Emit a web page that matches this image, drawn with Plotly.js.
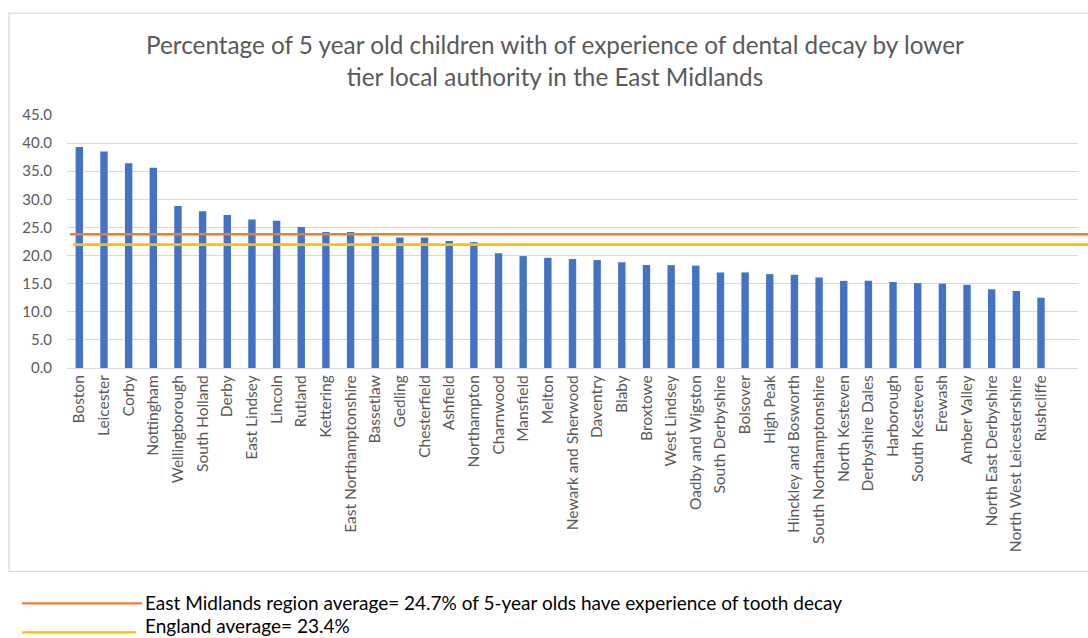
<!DOCTYPE html>
<html>
<head>
<meta charset="utf-8">
<script src="https://cdn.plot.ly/plotly-3.0.1.min.js"></script>
<style>html,body{margin:0;padding:0;background:#fff;}#chart{width:1088px;height:638px;}</style>
</head>
<body>
<div id="chart"></div>
<script>
const authorities = ["Boston","Leicester","Corby","Nottingham","Wellingborough","South Holland","Derby","East Lindsey","Lincoln","Rutland","Kettering","East Northamptonshire","Bassetlaw","Gedling","Chesterfield","Ashfield","Northampton","Charnwood","Mansfield","Melton","Newark and Sherwood","Daventry","Blaby","Broxtowe","West Lindsey","Oadby and Wigston","South Derbyshire","Bolsover","High Peak","Hinckley and Bosworth","South Northamptonshire","North Kesteven","Derbyshire Dales","Harborough","South Kesteven","Erewash","Amber Valley","North East Derbyshire","North West Leicestershire","Rushcliffe"];
const decayPercent = [39.3,38.5,36.4,35.6,28.8,27.9,27.2,26.4,26.2,25.1,24.2,24.2,23.4,23.2,23.2,22.6,22.4,20.4,19.9,19.6,19.4,19.2,18.8,18.3,18.3,18.2,17.0,17.0,16.7,16.6,16.1,15.5,15.5,15.3,15.1,15.0,14.8,14.0,13.7,12.5];
const yTickValues = [0,5,10,15,20,25,30,35,40,45];
const yTickLabels = ["0.0","5.0","10.0","15.0","20.0","25.0","30.0","35.0","40.0","45.0"];
const averageLabels = ["East Midlands region average= 24.7% of 5-year olds have experience of tooth decay","England average= 23.4%"];
const averageLineLevels = [23.8, 21.95];
const averageColors = ["#ED7D31","#FFC000"];

const L = 67, R = 1078, W = R - L;
const px = x => (x - L) / W;
const T = 115, B = 368.3, H = B - T, FIG_H = 638;
const py = y => (B - y) / H;

const FONT = 'Lato, Carlito, sans-serif';

const shapes = [
  {type:'rect', xref:'paper', yref:'paper', x0:px(9), x1:px(1095), y0:py(572), y1:py(13), line:{color:'#d9d9d9', width:1.3}, fillcolor:'rgba(0,0,0,0)', layer:'below'},
  {type:'line', xref:'paper', yref:'y', x0:px(70), x1:px(1090), y0:averageLineLevels[0], y1:averageLineLevels[0], line:{color:averageColors[0], width:2.6}},
  {type:'line', xref:'paper', yref:'y', x0:px(73), x1:px(1090), y0:averageLineLevels[1], y1:averageLineLevels[1], line:{color:averageColors[1], width:2.6}},
  {type:'line', xref:'paper', yref:'paper', x0:px(22), x1:px(142), y0:py(604), y1:py(604), line:{color:averageColors[0], width:2.2}},
  {type:'line', xref:'paper', yref:'paper', x0:px(22), x1:px(136), y0:py(633), y1:py(633), line:{color:averageColors[1], width:2.2}}
];

const annotations = [
  {xref:'paper', yref:'paper', x:px(143), y:py(603), xanchor:'left', yanchor:'middle', showarrow:false, text:averageLabels[0], font:{family:FONT, size:19, color:'#000'}},
  {xref:'paper', yref:'paper', x:px(143), y:py(626), xanchor:'left', yanchor:'middle', showarrow:false, text:averageLabels[1], font:{family:FONT, size:19, color:'#000'}}
];

const trace = {
  type:'bar', x:authorities, y:decayPercent,
  marker:{color:'#4472C4'}, hoverinfo:'x+y'
};

const layout = {
  width:1088, height:638,
  margin:{l:L, r:1088-R, t:T, b:FIG_H-B, pad:0},
  paper_bgcolor:'#fff', plot_bgcolor:'#fff',
  showlegend:false,
  bargap:0.7,
  title:{text:'Percentage of 5 year old children with of experience of dental decay by lower<br>tier local authority in the East Midlands', xref:'container', x:555/1088, xanchor:'center', yref:'container', y:1-54/638, yanchor:'top', font:{family:FONT, size:24.3, color:'#595959'}},
  xaxis:{type:'category', range:[-0.5, 40.5], tickangle:-90, showgrid:false, showline:true, linecolor:'#d9d9d9', linewidth:1, ticks:'', tickfont:{family:FONT, size:15.5, color:'#595959'}, fixedrange:true, automargin:false},
  yaxis:{range:[0,45], tickvals:yTickValues, ticktext:yTickLabels, showgrid:true, gridcolor:'#d9d9d9', gridwidth:1, zeroline:false, showline:false, ticks:'', ticklabelstandoff:14, tickfont:{family:FONT, size:15, color:'#595959'}, fixedrange:true, automargin:false},
  shapes:shapes, annotations:annotations,
  font:{family:FONT}
};

Plotly.newPlot('chart', [trace], layout, {displayModeBar:false, staticPlot:true});
</script>
</body>
</html>
